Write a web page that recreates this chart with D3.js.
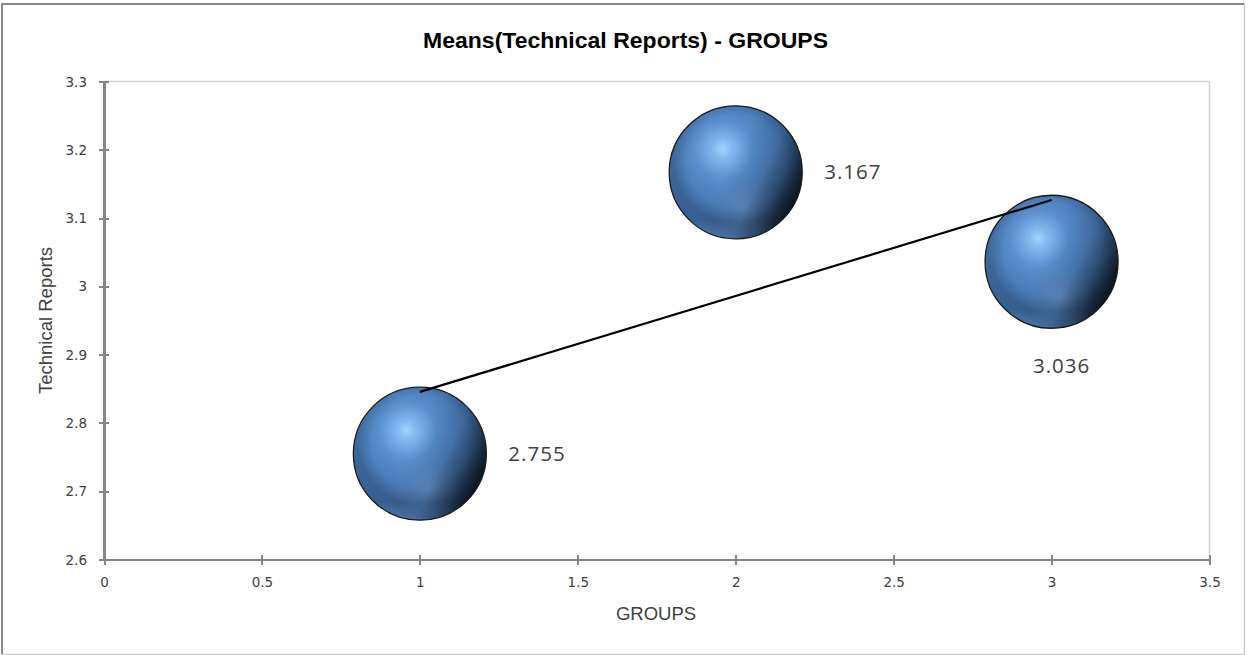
<!DOCTYPE html>
<html>
<head>
<meta charset="utf-8">
<script src="https://cdn.jsdelivr.net/npm/d3@7"></script>
<style>
  html, body { margin: 0; padding: 0; background: #ffffff; }
  svg { display: block; }
</style>
</head>
<body>
<svg id="chart" width="1248" height="655"></svg>
<script>
// Group means for Technical Reports
const groups = [1, 2, 3];
const means = [2.755, 3.167, 3.036];
const bubbleSizes = [1, 1, 1];
const labelSide = ["right", "right", "below"];

const xTicks = [0, 0.5, 1, 1.5, 2, 2.5, 3, 3.5];
const xTickLabels = ["0", "0.5", "1", "1.5", "2", "2.5", "3", "3.5"];
const yTicks = [2.6, 2.7, 2.8, 2.9, 3.0, 3.1, 3.2, 3.3];
const yTickLabels = ["2.6", "2.7", "2.8", "2.9", "3", "3.1", "3.2", "3.3"];

const titleText = "Means(Technical Reports) - GROUPS";
const xTitle = "GROUPS";
const yTitle = "Technical Reports";

const W = 1248, H = 655;
const plot = { left: 104, right: 1209.5, top: 81.5, bottom: 559.5 };

const svg = d3.select("#chart");

// chart frame
svg.append("rect").attr("x", 0).attr("y", 0).attr("width", W).attr("height", H).attr("fill", "#fff");
svg.append("line").attr("x1", 1).attr("x2", 1244.5).attr("y1", 4).attr("y2", 4)
  .attr("stroke", "#8a8a8a").attr("stroke-width", 2);
svg.append("line").attr("x1", 2).attr("x2", 2).attr("y1", 3).attr("y2", 654.5)
  .attr("stroke", "#8a8a8a").attr("stroke-width", 2);
svg.append("line").attr("x1", 1244.5).attr("x2", 1244.5).attr("y1", 4).attr("y2", 654.5)
  .attr("stroke", "#c8c8c8").attr("stroke-width", 1.2);
svg.append("line").attr("x1", 2).attr("x2", 1244.5).attr("y1", 654.3).attr("y2", 654.3)
  .attr("stroke", "#c8c8c8").attr("stroke-width", 1.2);

const x = d3.scaleLinear().domain([0, 3.5]).range([plot.left, plot.right]);
const y = d3.scaleLinear().domain([2.6, 3.3]).range([plot.bottom, plot.top]);
const r = d3.scaleSqrt().domain([0, d3.max(bubbleSizes)]).range([0, 66.5]);

// gradients for the 3-D sphere look
const defs = svg.append("defs");
function radial(id, attrs, stops) {
  const g = defs.append("radialGradient").attr("id", id);
  Object.entries(attrs).forEach(([k, v]) => g.attr(k, v));
  stops.forEach(([o, c, a]) => g.append("stop").attr("offset", o).attr("stop-color", c)
    .attr("stop-opacity", a === undefined ? 1 : a));
}
function linear(id, attrs, stops) {
  const g = defs.append("linearGradient").attr("id", id);
  Object.entries(attrs).forEach(([k, v]) => g.attr(k, v));
  stops.forEach(([o, c, a]) => g.append("stop").attr("offset", o).attr("stop-color", c)
    .attr("stop-opacity", a === undefined ? 1 : a));
}

radial("sphereBase", { cx: 0.42, cy: 0.36, r: 0.74, fx: 0.40, fy: 0.32 },
  [[0, "#a2d3ff"], [0.1, "#80b8ee"], [0.3, "#578ecb"], [0.55, "#4879b4"],
   [0.78, "#3d6aa2"], [1, "#2f5484"]]);
linear("sphereShade", { x1: 0.5, y1: 0.35, x2: 1, y2: 0.6 },
  [[0, "#000", 0], [0.45, "#000", 0.12], [0.75, "#000", 0.4], [1, "#000", 0.75]]);
radial("sphereBand", { cx: 0.5, cy: 0.42, r: 0.6 },
  [[0, "#000", 0], [0.6, "#000", 0], [0.78, "#000", 0.16], [0.9, "#000", 0.12], [1, "#000", 0]]);
radial("sphereGlow", { cx: 0.56, cy: 0.76, r: 0.26 },
  [[0, "#86afe0", 0.45], [0.6, "#7aa3d4", 0.15], [1, "#7aa3d4", 0]]);
linear("sphereRim", { x1: 0, y1: 0, x2: 0, y2: 1 },
  [[0, "#6c9ad4", 0], [0.86, "#6c9ad4", 0], [1, "#6c9ad4", 0.55]]);

// plot area top/right edges
svg.append("line").attr("x1", plot.left).attr("x2", plot.right).attr("y1", plot.top).attr("y2", plot.top)
  .attr("stroke", "#d0d0d0").attr("stroke-width", 1.5);
svg.append("line").attr("x1", plot.right).attr("x2", plot.right).attr("y1", plot.top).attr("y2", plot.bottom)
  .attr("stroke", "#d0d0d0").attr("stroke-width", 1.5);

// axes
const axisColor = "#868686";
const labelColor = "#404040";

const xAxis = svg.append("g").attr("transform", `translate(0,${plot.bottom})`)
  .call(d3.axisBottom(x).tickValues(xTicks).tickFormat((d, i) => xTickLabels[i]).tickSize(5).tickSizeOuter(0));
xAxis.select(".domain").attr("stroke", axisColor).attr("stroke-width", 2.2);
xAxis.selectAll(".tick line").attr("y1", -5).attr("y2", 5).attr("stroke", axisColor).attr("stroke-width", 2);
xAxis.selectAll(".tick text").attr("y", 18).attr("dy", "0.71em")
  .attr("font-family", "DejaVu Sans, Verdana, sans-serif").attr("font-size", 13.5).attr("fill", labelColor);

const yAxis = svg.append("g").attr("transform", `translate(${plot.left},0)`)
  .call(d3.axisLeft(y).tickValues(yTicks).tickFormat((d, i) => yTickLabels[i]).tickSize(5).tickSizeOuter(0));
yAxis.select(".domain").attr("stroke", axisColor).attr("stroke-width", 2.2);
yAxis.selectAll(".tick line").attr("x1", -5).attr("x2", 5).attr("stroke", axisColor).attr("stroke-width", 2);
yAxis.selectAll(".tick text").attr("x", -17).attr("dy", "0.34em")
  .attr("font-family", "DejaVu Sans, Verdana, sans-serif").attr("font-size", 13.5).attr("fill", labelColor);
svg.selectAll(".domain, .tick line").attr("shape-rendering", "crispEdges");

// title and axis titles
svg.append("text").attr("x", 625.5).attr("y", 48).attr("text-anchor", "middle")
  .attr("font-family", "Liberation Sans, Arial, sans-serif").attr("font-weight", "bold")
  .attr("font-size", 22).attr("fill", "#000")
  .attr("textLength", 405).attr("lengthAdjust", "spacingAndGlyphs")
  .text(titleText);

svg.append("text").attr("x", 656).attr("y", 620).attr("text-anchor", "middle")
  .attr("font-family", "Liberation Sans, Arial, sans-serif").attr("font-size", 18.5).attr("fill", labelColor)
  .text(xTitle);

svg.append("text").attr("transform", `translate(52,${(plot.top + plot.bottom) / 2}) rotate(-90)`)
  .attr("text-anchor", "middle")
  .attr("font-family", "Liberation Sans, Arial, sans-serif").attr("font-size", 18.5).attr("fill", labelColor)
  .text(yTitle);

// bubbles
const pts = groups.map((g, i) => ({ g, v: means[i], s: bubbleSizes[i], side: labelSide[i] }));
const bub = svg.append("g").selectAll("g").data(pts).join("g")
  .attr("transform", d => `translate(${x(d.g)},${y(d.v)})`);
["sphereBase", "sphereBand", "sphereGlow", "sphereRim"].forEach(id =>
  bub.append("circle").attr("r", d => r(d.s)).attr("fill", `url(#${id})`));
bub.append("circle").attr("r", d => r(d.s)).attr("fill", "url(#sphereShade)")
  .attr("stroke", "#1a1a1a").attr("stroke-width", 1.3);

// linear trend line through the group means
const xm = d3.mean(groups), ym = d3.mean(means);
const slope = d3.sum(groups, (g, i) => (g - xm) * (means[i] - ym)) / d3.sum(groups, g => (g - xm) ** 2);
const icpt = ym - slope * xm;
const xExt = d3.extent(groups);
svg.append("line")
  .attr("x1", x(xExt[0])).attr("y1", y(icpt + slope * xExt[0]))
  .attr("x2", x(xExt[1])).attr("y2", y(icpt + slope * xExt[1]))
  .attr("stroke", "#000").attr("stroke-width", 2.2);

// value labels
svg.append("g").selectAll("text").data(pts).join("text")
  .attr("x", d => d.side === "right" ? x(d.g) + r(d.s) + 22 : x(d.g) + 10)
  .attr("y", d => d.side === "right" ? y(d.v) : y(d.v) + r(d.s) + 45)
  .attr("dy", d => d.side === "right" ? "0.35em" : "0")
  .attr("text-anchor", d => d.side === "right" ? "start" : "middle")
  .attr("font-family", "Open Sans, Noto Sans, sans-serif").attr("font-size", 20.5)
  .attr("letter-spacing", 1).attr("fill", labelColor)
  .text(d => d.v.toFixed(3));
</script>
</body>
</html>
